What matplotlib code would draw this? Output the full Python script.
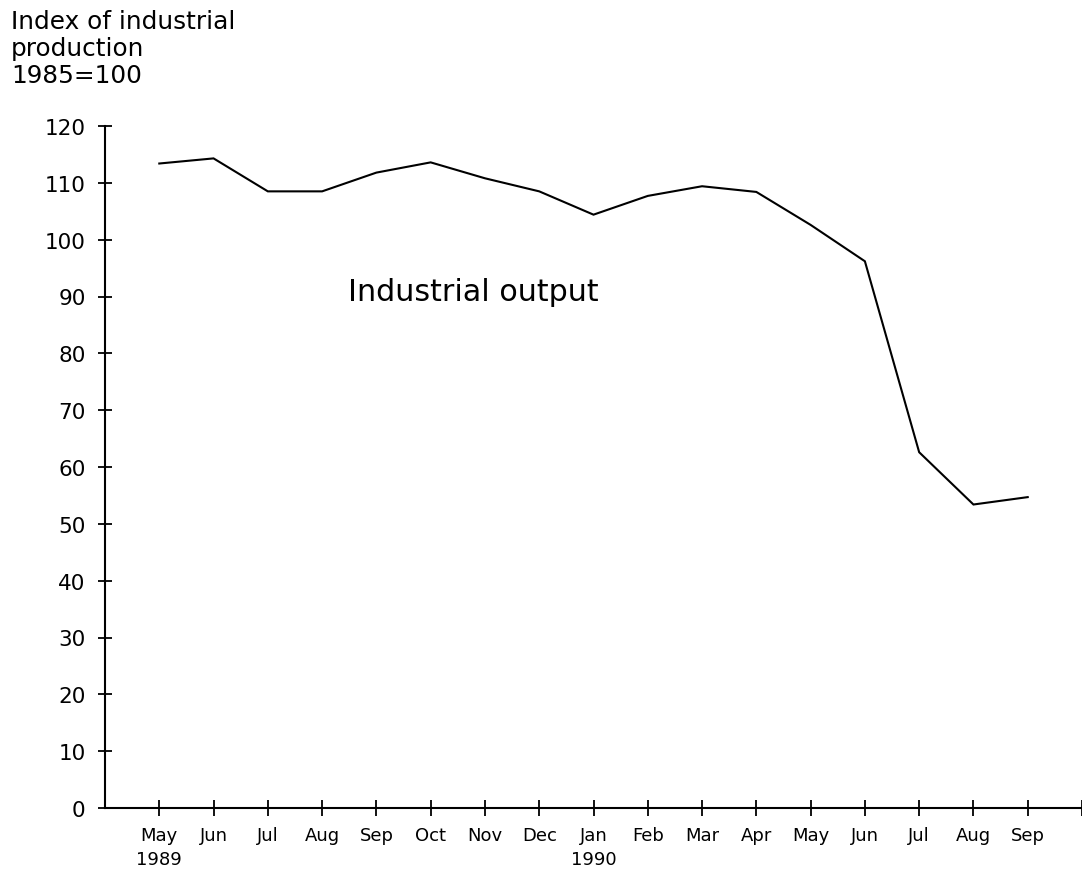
import matplotlib
matplotlib.use("Agg")
import matplotlib.pyplot as plt

months = ["May\n1989", "Jun", "Jul", "Aug", "Sep", "Oct", "Nov", "Dec",
          "Jan\n1990", "Feb", "Mar", "Apr", "May", "Jun", "Jul", "Aug", "Sep"]
output = [113.4, 114.3, 108.5, 108.5, 111.8, 113.6, 110.8, 108.5,
          104.4, 107.7, 109.4, 108.4, 102.6, 96.2, 62.6, 53.4, 54.7]
y_ticks = list(range(0, 121, 10))

plt.rcParams['font.family'] = ['DejaVu Sans']

fig = plt.figure(figsize=(10.82, 8.70), dpi=100)
ax = fig.add_axes([105 / 1082, 61 / 870, 977 / 1082, 682 / 870])

x = list(range(len(output)))
ax.plot(x, output, color='black', lw=1.5, solid_joinstyle='miter')

ax.set_xlim(-1, 17)
ax.set_ylim(0, 120)

ax.set_xticks(list(range(0, 18)))
ax.set_xticklabels(months + [""], fontsize=13, linespacing=1.4, va='top')
ax.set_yticks(y_ticks)
ax.set_yticklabels([str(v) for v in y_ticks], fontsize=15.5)

ax.spines['top'].set_visible(False)
ax.spines['right'].set_visible(False)
for s in ['left', 'bottom']:
    ax.spines[s].set_linewidth(1.5)
ax.tick_params(axis='x', direction='inout', length=11, width=1.3, pad=7.5)
ax.tick_params(axis='y', direction='inout', length=10, width=1.3, pad=9)

ax.text(3.47, 90.8, "Industrial output", fontsize=21.7, va='center', ha='left')

fig.text(11 / 1082, 1 - 10 / 870, "Index of industrial\nproduction\n1985=100",
         fontsize=17.8, va='top', ha='left', linespacing=1.15)

fig.savefig("out.png", dpi=100)
